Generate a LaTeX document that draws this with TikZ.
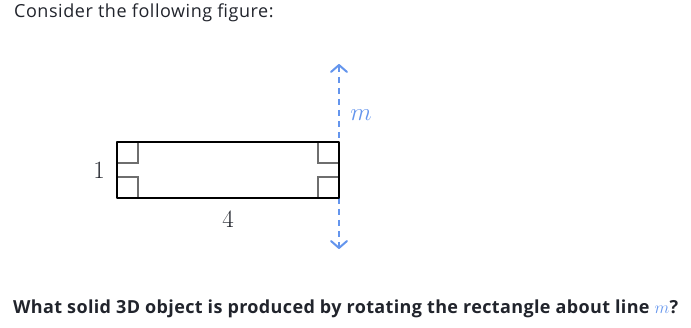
\documentclass[tikz,border=0pt]{standalone}
\usepackage[no-math]{fontspec}
\setmainfont{Open Sans}
\definecolor{ink}{RGB}{33, 36, 44}
\definecolor{axisblue}{RGB}{100, 149, 237}
\definecolor{markgray}{RGB}{110, 110, 110}
\usetikzlibrary{arrows.meta}

\begin{document}
\begin{tikzpicture}[
        x=1pt, y=-1pt,
        every node/.style={inner sep=0pt},
        prompt/.style={anchor=base west, text=ink, font=\fontsize{18}{22}\selectfont\addfontfeature{LetterSpace=3}},
        question/.style={prompt, font=\fontsize{18}{22}\selectfont\bfseries\addfontfeature{LetterSpace=2}},
        measure/.style={text=ink, font=\fontsize{24}{28}\selectfont},
        side/.style={line width=2.3pt, black, line join=round},
        rightmark/.style={line width=1.2pt, markgray},
        axisline/.style={line width=2pt, axisblue, dash pattern=on 6pt off 5pt,
            {Straight Barb[width=16pt, length=7pt, round]}-{Straight Barb[width=16pt, length=7pt, round]}}
    ]
        \useasboundingbox (0,0) rectangle (691,328);

        \node[prompt] (intro) at (14, 18) {Consider the following figure:};
        \node[question] (ask) at (13, 314) {What solid 3D object is produced by rotating the rectangle about line \textcolor{axisblue}{$m$}?};

        \coordinate (mtop) at (339, 64);
        \coordinate (mbot) at (339, 249);
        \draw[axisline] (mtop) -- (mbot);

        % right angle marks
        \draw[rightmark] (117,163) -- (138,163) -- (138,142);
        \draw[rightmark] (117,177) -- (138,177) -- (138,198);
        \draw[rightmark] (339,163) -- (318,163) -- (318,142);
        \draw[rightmark] (339,177) -- (318,177) -- (318,198);

        \draw[side] (117,142) rectangle (339,198);

        \node[measure] (one) at (99, 170) {$1$};
        \node[measure] (four) at (228, 219) {$4$};
        \node[measure, text=axisblue] (mlabel) at (361, 115) {$m$};
    \end{tikzpicture}
\end{document}
